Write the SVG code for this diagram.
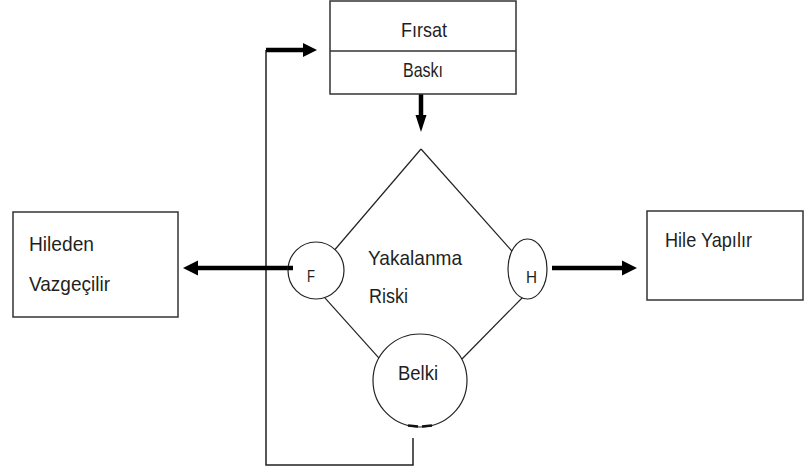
<svg xmlns="http://www.w3.org/2000/svg" width="805" height="472" viewBox="0 0 805 472">
  <style>
    .box { fill: #ffffff; stroke: #333333; stroke-width: 1.5; }
    .edge { fill: none; stroke: #222222; stroke-width: 1.2; }
    .node { fill: #ffffff; stroke: #222222; stroke-width: 1.2; }
    .loop { fill: none; stroke: #222222; stroke-width: 1.5; }
    .arrow { fill: none; stroke: #000000; stroke-width: 4.5; }
    .head { fill: #000000; }
    .lbl { font-family: "Liberation Sans", Arial, sans-serif; font-size: 21px; fill: #1f1f1f; }
    .sm { font-size: 17px; }
  </style>
  <rect width="805" height="472" fill="#ffffff"/>

  <g id="connectors">
    <!-- feedback loop from the bottom of "Belki" back to the top box -->
    <polyline class="loop" points="413,438 413,465 266,465 266,50"/>
    <line class="arrow" x1="266" y1="50" x2="305" y2="50"/>
    <polygon class="head" points="317,50 303,43 303,57"/>
    <!-- top box down to decision -->
    <line class="arrow" x1="421" y1="94" x2="421" y2="117"/>
    <polygon class="head" points="421,132 415.5,115 426.5,115"/>
    <!-- F to left box -->
    <line class="arrow" x1="293" y1="268" x2="195" y2="268"/>
    <polygon class="head" points="183,268 198,260.5 198,275.5"/>
    <!-- H to right box -->
    <line class="arrow" x1="552" y1="268" x2="625" y2="268"/>
    <polygon class="head" points="637,268 622,260.5 622,275.5"/>
    <!-- decision outline -->
    <line class="edge" x1="421" y1="149" x2="332" y2="253"/>
    <line class="edge" x1="421" y1="149" x2="515" y2="254.5"/>
    <line class="edge" x1="322" y1="294.7" x2="381" y2="360.3"/>
    <line class="edge" x1="524" y1="296" x2="461" y2="360"/>
  </g>

  <g id="top-box">
    <rect class="box" x="330" y="1" width="186" height="93"/>
    <line class="box" x1="330" y1="51" x2="516" y2="51"/>
    <text class="lbl" x="401" y="37" textLength="46" lengthAdjust="spacingAndGlyphs">Fırsat</text>
    <text class="lbl" x="403" y="77" textLength="40" lengthAdjust="spacingAndGlyphs">Baskı</text>
  </g>

  <g id="decision">
    <text class="lbl" x="368" y="265" textLength="94" lengthAdjust="spacingAndGlyphs">Yakalanma</text>
    <text class="lbl" x="369" y="303" textLength="39" lengthAdjust="spacingAndGlyphs">Riski</text>
  </g>

  <g id="node-f">
    <ellipse class="node" cx="316" cy="270.5" rx="28" ry="28.5"/>
    <line class="arrow" x1="293" y1="268" x2="288" y2="268"/>
    <text class="lbl sm" x="307" y="282" textLength="8" lengthAdjust="spacingAndGlyphs">F</text>
  </g>

  <g id="node-h">
    <ellipse class="node" cx="527.5" cy="269" rx="19.5" ry="30"/>
    <text class="lbl sm" x="526" y="283" textLength="11" lengthAdjust="spacingAndGlyphs">H</text>
  </g>

  <g id="node-belki">
    <ellipse class="node" cx="420" cy="380.5" rx="47" ry="46.5"/>
    <path d="M408,425.5 L418,426.5 M422,426.5 L432,425.5" fill="none" stroke="#111111" stroke-width="2.5"/>
    <text class="lbl" x="398" y="380" textLength="40" lengthAdjust="spacingAndGlyphs">Belki</text>
  </g>

  <g id="left-box">
    <rect class="box" x="13" y="212" width="165" height="105"/>
    <text class="lbl" x="29" y="251" textLength="65" lengthAdjust="spacingAndGlyphs">Hileden</text>
    <text class="lbl" x="29" y="291" textLength="81" lengthAdjust="spacingAndGlyphs">Vazgeçilir</text>
  </g>

  <g id="right-box">
    <rect class="box" x="647" y="211" width="156" height="89"/>
    <text class="lbl" x="665" y="247" textLength="87" lengthAdjust="spacingAndGlyphs">Hile Yapılır</text>
  </g>
</svg>
